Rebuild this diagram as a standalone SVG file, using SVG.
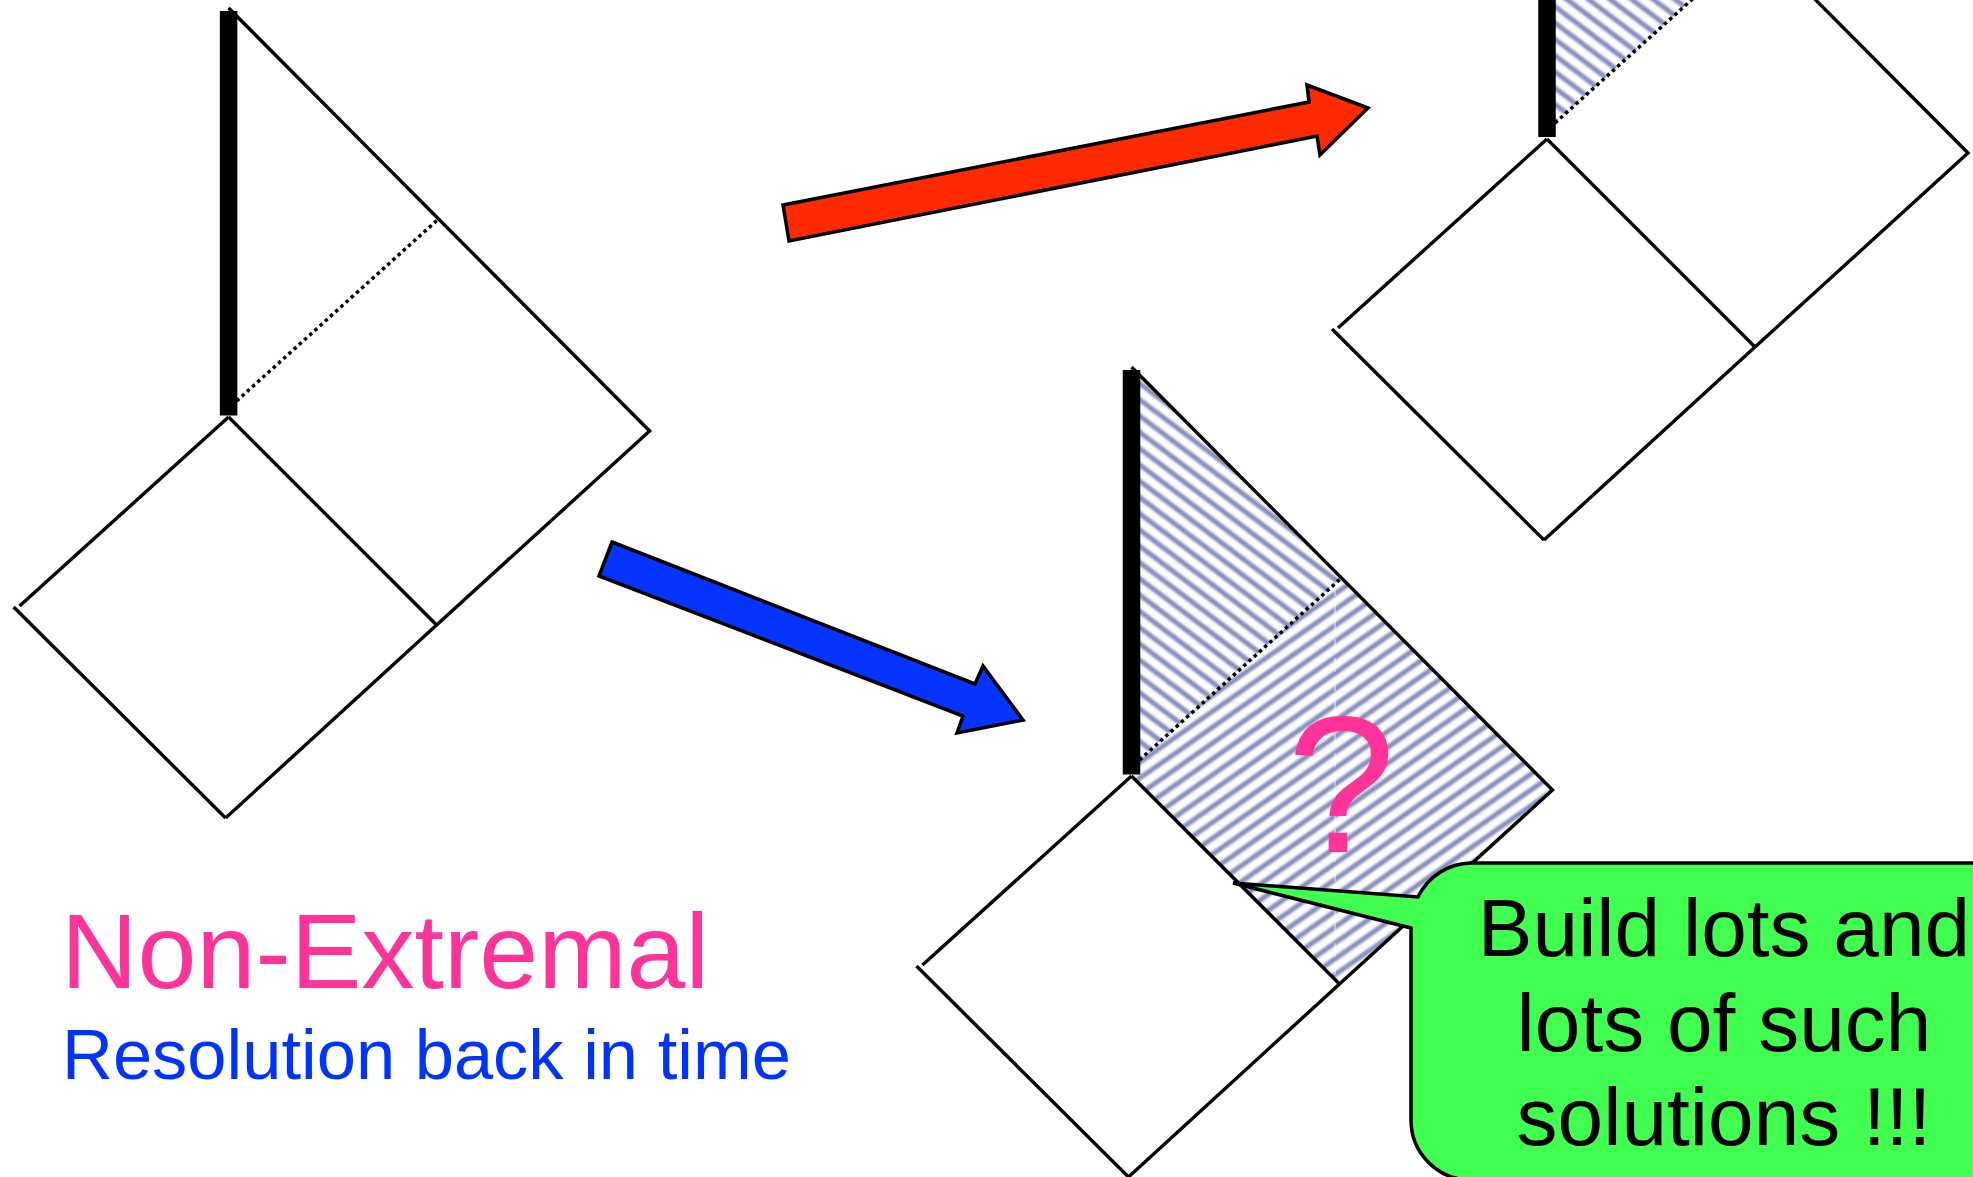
<svg xmlns="http://www.w3.org/2000/svg" width="1973" height="1177" viewBox="0 0 1973 1177">
  <style>
    .edge { fill: none; stroke: #000; stroke-width: 3.4; stroke-linejoin: miter; }
    .thick { stroke: #000; stroke-width: 17.5; }
    .dot { fill: none; stroke: #000; stroke-width: 3.5; stroke-dasharray: 3.5 3.5; }
    .arrow { stroke: #000; stroke-width: 3.5; stroke-linejoin: miter; }
    .sans { font-family: "Liberation Sans", Arial, sans-serif; }
    .callout-text { font-size: 82px; fill: #000; text-anchor: middle; }
  </style>
  <defs>
    <linearGradient id="stripe" x1="0" y1="0" x2="0" y2="1">
      <stop offset="0" stop-color="#ffffff"/>
      <stop offset="0.22" stop-color="#f5f5fa"/>
      <stop offset="0.38" stop-color="#9a9fc7"/>
      <stop offset="0.5" stop-color="#868bb9"/>
      <stop offset="0.62" stop-color="#9a9fc7"/>
      <stop offset="0.78" stop-color="#f5f5fa"/>
      <stop offset="1" stop-color="#ffffff"/>
    </linearGradient>
    <pattern id="hatchDown" patternUnits="userSpaceOnUse" width="40" height="13" patternTransform="rotate(37)">
      <rect width="40" height="13" fill="url(#stripe)"/>
    </pattern>
    <pattern id="hatchUp" patternUnits="userSpaceOnUse" width="40" height="13" patternTransform="rotate(-35)">
      <rect width="40" height="13" fill="url(#stripe)"/>
    </pattern>
  </defs>

  <rect width="1973" height="1177" fill="#ffffff"/>

  <!-- Left diagram -->
  <g id="diagram-left" transform="translate(228.6,417)">
    <polyline class="edge" points="0,-409 421,14 208,208 -3,401"/>
    <line class="edge" x1="0" y1="0" x2="208" y2="208"/>
    <line class="edge" x1="0" y1="0" x2="-209" y2="189"/>
    <line class="edge" x1="-215" y1="190" x2="-3" y2="401"/>
    <line class="dot" x1="8" y1="-16" x2="211" y2="-199"/>
    <line class="thick" x1="0" y1="-406" x2="0" y2="-1.5"/>
  </g>

  <!-- Top-right diagram -->
  <g id="diagram-top-right" transform="translate(1547,139)">
    <polygon points="0,-409 211,-199 8,-16 0,-9" fill="url(#hatchDown)"/>
    <polyline class="edge" points="0,-409 421,14 208,208 -3,401"/>
    <line class="edge" x1="0" y1="0" x2="208" y2="208"/>
    <line class="edge" x1="0" y1="0" x2="-209" y2="189"/>
    <line class="edge" x1="-215" y1="190" x2="-3" y2="401"/>
    <line class="dot" x1="8" y1="-16" x2="211" y2="-199"/>
    <line class="thick" x1="0" y1="-406" x2="0" y2="-2"/>
  </g>

  <!-- Bottom diagram -->
  <g id="diagram-bottom" transform="translate(1131.5,776)">
    <polygon points="0,-409 211,-199 8,-16 0,-9" fill="url(#hatchDown)"/>
    <polygon points="0,-9 8,-16 211,-199 421,14 208,208 0,0" fill="url(#hatchUp)"/>
    <line x1="203.5" y1="-194" x2="203.5" y2="199" stroke="#ffffff" stroke-opacity="0.55" stroke-width="1.5" stroke-dasharray="14 5"/>
    <polyline class="edge" points="0,-409 421,14 208,208 -3,401"/>
    <line class="edge" x1="0" y1="0" x2="208" y2="208"/>
    <line class="edge" x1="0" y1="0" x2="-209" y2="189"/>
    <line class="edge" x1="-215" y1="190" x2="-3" y2="401"/>
    <line class="dot" x1="8" y1="-16" x2="211" y2="-199"/>
    <line class="thick" x1="0" y1="-406" x2="0" y2="-1.5"/>
    <text class="sans" x="155.5" y="76" font-size="195" fill="#ff3399">?</text>
  </g>

  <!-- Connectors (block arrows) -->
  <g id="connectors">
    <polygon id="arrow-red" class="arrow" fill="#ff2a00" points="783,205 1309,102 1307,85 1368,108 1320,155 1317,136 789,241"/>
    <polygon id="arrow-blue" class="arrow" fill="#0533ff" points="612,542 975,684 983,666 1023,720 957,733 963,716 599,576"/>
  </g>

  <!-- Callout -->
  <g id="callout">
    <path d="M1411,928 L1233,883 L1418,897 A60,60 0 0 1 1471,863 L1985,863 L1985,1180 L1471,1180 A60,60 0 0 1 1411,1120 Z" fill="#40ff50" stroke="#000" stroke-width="3.5" stroke-linejoin="miter"/>
    <text class="sans callout-text" x="1724" y="956">Build lots and</text>
    <text class="sans callout-text" x="1724" y="1050.5">lots of such</text>
    <text class="sans callout-text" x="1724" y="1145">solutions !!!</text>
  </g>

  <!-- Labels -->
  <g id="labels">
    <text class="sans" x="61" y="988" font-size="106" fill="#ff3399">Non-Extremal</text>
    <text class="sans" x="62" y="1079" font-size="70.5" fill="#0033ff">Resolution back in time</text>
  </g>
</svg>
